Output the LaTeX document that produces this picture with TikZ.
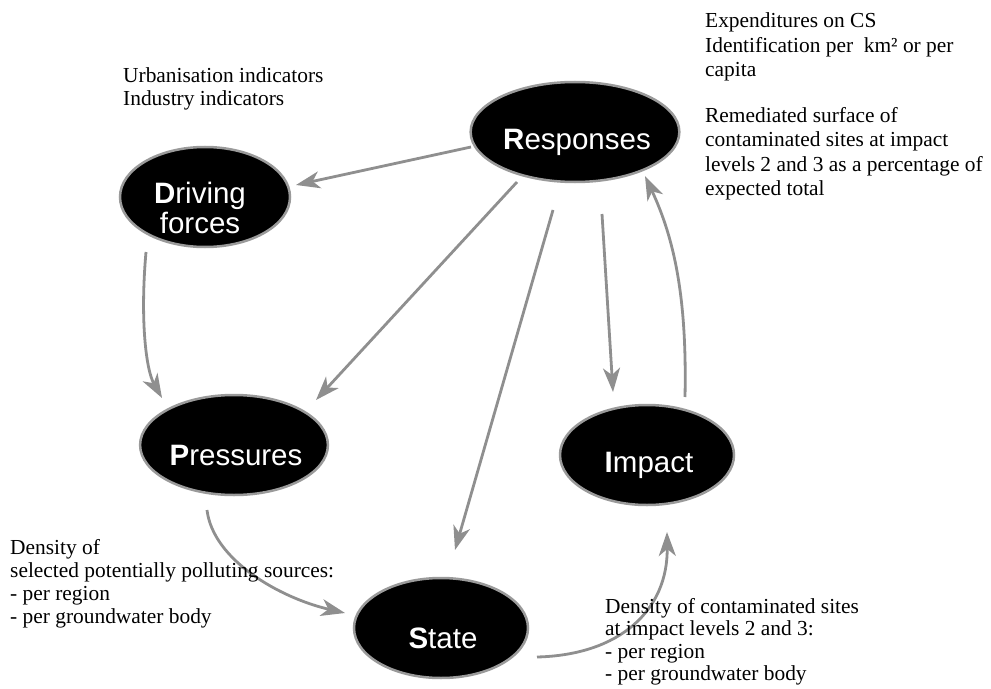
\documentclass[tikz,border=0pt]{standalone}
\usepackage{fontspec}
\setmainfont{Liberation Serif}
\newfontfamily\nodefont{Liberation Sans}
\usetikzlibrary{arrows.meta,calc,shapes.geometric}
\definecolor{arr}{HTML}{8F8F8F}
\definecolor{rim}{HTML}{9A9A9A}
\newcommand\lbl[3][2bp]{\raisebox{-#2}[\height][\depth]{\hspace*{#1}#3\hspace*{-#1}}}
\begin{document}
\begin{tikzpicture}[x=1bp,y=-1bp,
 dpsir/.style={ellipse, fill=black, draw=rim, line width=2.5bp, minimum width=174bp, minimum height=100bp, inner sep=0pt, text=white, font=\nodefont\fontsize{29.5bp}{30bp}\selectfont},
 link/.style={draw=arr, line width=2.8bp, -{Stealth[length=24bp,width=17bp,inset=7bp]}},
 note/.style={anchor=north west, inner sep=0pt, align=left}]
\useasboundingbox (0,0) rectangle (991,689);

% DPSIR nodes
\node[dpsir] (R) at (575,132) {\lbl{10bp}{\textbf{R}esponses}};
\node[dpsir, minimum width=170bp] (D) at (205,197) {\lbl[-5bp]{15bp}{\begin{tabular}{@{}c@{}}\textbf{D}riving\\forces\end{tabular}}};
\node[dpsir] (P) at (234,445) {\lbl{10bp}{\textbf{P}ressures}};
\node[dpsir] (I) at (647,455) {\lbl{10bp}{\textbf{I}mpact}};
\node[dpsir] (S) at (441,628) {\lbl{10bp}{\textbf{S}tate}};

% connector ends
\coordinate (rd1) at ($(R)+(-104,15)$);
\coordinate (rd2) at ($(D)+(91,-12)$);
\coordinate (rp1) at ($(R)+(-58,50)$);
\coordinate (rp2) at ($(P)+(82,-45)$);
\coordinate (rs1) at ($(R)+(-22,78)$);
\coordinate (rs2) at ($(S)+(14,-78)$);
\coordinate (ri1) at ($(R)+(27,82)$);
\coordinate (ri2) at ($(I)+(-34,-63)$);
\coordinate (ir1) at ($(I)+(38,-58)$);
\coordinate (ir2) at ($(R)+(70,44)$);
\coordinate (dp1) at ($(D)+(-59,55)$);
\coordinate (dp2) at ($(P)+(-72,-47)$);
\coordinate (ps1) at ($(P)+(-27,65)$);
\coordinate (ps2) at ($(S)+(-96,-15)$);
\coordinate (si1) at ($(S)+(96,29)$);
\coordinate (si2) at ($(I)+(20,77)$);

% connectors
\draw[link] (rd1) -- (rd2);
\draw[link] (rp1) -- (rp2);
\draw[link] (rs1) -- (rs2);
\draw[link] (ri1) -- (ri2);
\draw[link] (ir1) .. controls ($(ir1)+(2,-97)$) and ($(ir2)+(30,64)$) .. (ir2);
\draw[link] (dp1) .. controls ($(dp1)+(-6,68)$) and ($(dp2)+(-16,-28)$) .. (dp2);
\draw[link] (ps1) .. controls ($(ps1)+(6,50)$) and ($(ps2)+(-65,-15)$) .. (ps2);
\draw[link] (si1) .. controls ($(si1)+(83,-2)$) and ($(si2)+(1,78)$) .. (si2);

% indicator texts
\node[note, font=\fontsize{21.4bp}{23bp}\selectfont] (tD) at (123,65.9) {\strut Urbanisation indicators\\Industry indicators};
\node[note, font=\fontsize{21.4bp}{24.5bp}\selectfont] (tR) at (705,10.6) {\strut Expenditures on CS\\Identification per~ km² or per\\capita\\[20.6bp]Remediated surface of\\contaminated sites at impact\\levels 2 and 3 as a percentage of\\expected total};
\node[note, font=\fontsize{21.4bp}{23bp}\selectfont] (tP) at (10,537.9) {\strut Density of\\selected potentially polluting sources:\\- per region\\- per groundwater body};
\node[note, font=\fontsize{21.4bp}{22.5bp}\selectfont] (tI) at (605,597.3) {\strut Density of contaminated sites\\at impact levels 2 and 3:\\- per region\\- per groundwater body};
\end{tikzpicture}
\end{document}
